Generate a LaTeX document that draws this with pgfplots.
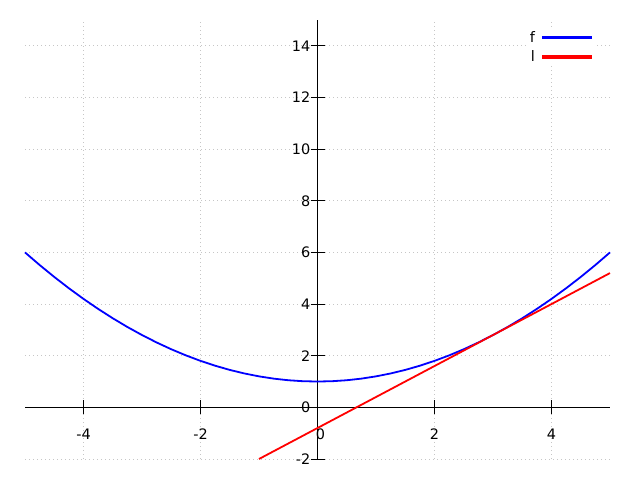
\documentclass[border=0pt]{standalone}
\usepackage{pgfplots}
\pgfplotsset{compat=1.18}
\usepackage{fontspec}
\setmainfont{DejaVu Sans}
\begin{document}
\begin{tikzpicture}
\begin{axis}[
  scale only axis,
  width=585bp, height=439bp,
  xmin=-5, xmax=5,
  ymin=-2, ymax=15,
  axis lines=middle,
  axis line style={-, black, line width=0.8bp},
  hide obscured x ticks=false,
  hide obscured y ticks=false,
  xtick={-4,-2,0,2,4},
  xticklabels={-4,-2,\hspace{6bp}0,2,4},
  ytick={-2,0,2,4,6,8,10,12,14},
  yticklabels={-2,0,2,4,6,8,10,12,14},
  tick align=center,
  major tick length=14bp,
  tick style={black, line width=0.8bp},
  tick label style={font=\fontsize{14.5}{17}\selectfont},
  xticklabel style={anchor=center, inner sep=0pt, yshift=-20bp},
  yticklabel style={anchor=east, inner sep=0pt, xshift=0bp},
  grid=major,
  major grid style={gray!45, line width=0.8bp, dash pattern=on 0.8bp off 3.2bp},
  clip=false,
  legend style={draw=none, fill=white, at={(rel axis cs:0.9726,0.9818)}, anchor=north east,
    inner sep=2bp, row sep=5bp, column sep=6bp,
    nodes={fill=none, inner sep=1bp},
    font=\fontsize{14.5}{17}\selectfont},
  legend plot pos=right,
  legend cell align=right,
  legend image code/.code={\fill[#1] (0bp,-0.9bp) rectangle (48bp,0.9bp);},
]
\addplot[color=blue, line width=1.8bp] coordinates {
(-5,6) (-4.75,5.5125) (-4.5,5.05) (-4.25,4.6125) (-4,4.2) (-3.75,3.8125)
(-3.5,3.45) (-3.25,3.1125) (-3,2.8) (-2.75,2.5125) (-2.5,2.25) (-2.25,2.0125)
(-2,1.8) (-1.75,1.6125) (-1.5,1.45) (-1.25,1.3125) (-1,1.2) (-0.75,1.1125)
(-0.5,1.05) (-0.25,1.0125) (0,1) (0.25,1.0125) (0.5,1.05) (0.75,1.1125)
(1,1.2) (1.25,1.3125) (1.5,1.45) (1.75,1.6125) (2,1.8) (2.25,2.0125)
(2.5,2.25) (2.75,2.5125) (3,2.8) (3.25,3.1125) (3.5,3.45) (3.75,3.8125)
(4,4.2) (4.25,4.6125) (4.5,5.05) (4.75,5.5125) (5,6)
};
\addlegendentry{f}
\addplot[color=red, line width=1.8bp] coordinates {(-1,-2) (5,5.2)};
\addlegendentry{l}
\coordinate (bl) at (rel axis cs:-0.04274,-0.04784);
\coordinate (tr) at (rel axis cs:1.05128,1.04556);
\end{axis}
\pgfresetboundingbox
\path (bl) rectangle (tr);
\end{tikzpicture}
\end{document}
